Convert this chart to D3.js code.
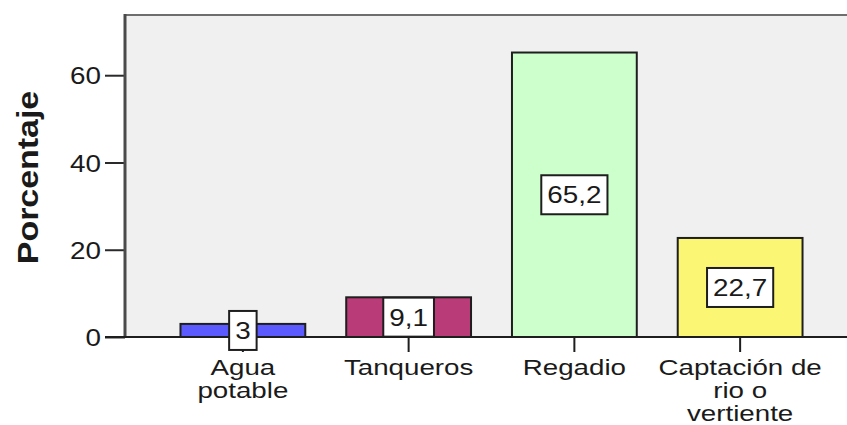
<!DOCTYPE html>
<html>
<head>
<meta charset="utf-8">
<script src="https://cdnjs.cloudflare.com/ajax/libs/d3/7.8.5/d3.min.js"></script>
<style>
  html, body { margin: 0; padding: 0; background: #ffffff; }
  svg { display: block; }
  text { font-family: "Liberation Sans", Arial, sans-serif; fill: #1a1a1a; }
</style>
</head>
<body>
<svg id="chart" width="847" height="425"></svg>
<script>
const categories = ["Agua potable", "Tanqueros", "Regadio", "Captación de rio o vertiente"];
const categoryLines = [["Agua", "potable"], ["Tanqueros"], ["Regadio"], ["Captación de", "rio o", "vertiente"]];
const values = [3, 9.1, 65.2, 22.7];
const barColors = ["#5a5aff", "#b93b78", "#ccffcc", "#fbf674"];
const yTicks = [0, 20, 40, 60];
const yTitle = "Porcentaje";

const W = 847, H = 425;
const plot = { left: 125, top: 15, right: 847, bottom: 337 };
const SX = 1.16; // horizontal glyph widening seen in the reference
const FS = 24;
const XFS = 21, XSX = 1.32, XLH = 23;

const svg = d3.select("#chart");
const locale = d3.formatLocale({ decimal: ",", thousands: ".", grouping: [3], currency: ["", ""] });
const fmt = v => locale.format(",.1~f")(v);

const y = d3.scaleLinear().domain([0, 73.8]).range([plot.bottom, plot.top]);
const x = d3.scaleBand().domain(categories).range([160, 823]).paddingInner(0.247).paddingOuter(0.1235);

// plot background
svg.append("rect")
  .attr("x", plot.left).attr("y", plot.top)
  .attr("width", plot.right - plot.left).attr("height", plot.bottom - plot.top)
  .attr("fill", "#f0f0f0");

// top frame line
svg.append("line")
  .attr("x1", plot.left).attr("x2", plot.right)
  .attr("y1", plot.top).attr("y2", plot.top)
  .attr("stroke", "#6e6e6e").attr("stroke-width", 2);

// bars
svg.append("g").selectAll("rect").data(values).join("rect")
  .attr("x", (d, i) => x(categories[i]))
  .attr("y", d => y(d))
  .attr("width", x.bandwidth())
  .attr("height", d => y(0) - y(d))
  .attr("fill", (d, i) => barColors[i])
  .attr("stroke", "#1e1e1e").attr("stroke-width", 2);

// y axis
const yAxis = d3.axisLeft(y).tickValues(yTicks).tickSize(20).tickPadding(4).tickFormat(d3.format("d"));
const gy = svg.append("g").attr("transform", `translate(${plot.left},0)`).call(yAxis);
gy.select(".domain").remove();
gy.selectAll(".tick line").attr("stroke", "#2a2a2a").attr("stroke-width", 2);
gy.selectAll(".tick text")
  .attr("font-size", FS)
  .attr("fill", "#1a1a1a")
  .attr("dy", "0.36em")
  .attr("transform", function () {
    const xx = +d3.select(this).attr("x");
    return `translate(${xx * (1 - SX)},0) scale(${SX},1)`;
  });

// left frame line
svg.append("line")
  .attr("x1", plot.left).attr("x2", plot.left)
  .attr("y1", plot.top - 1).attr("y2", plot.bottom)
  .attr("stroke", "#4a4a4a").attr("stroke-width", 3);

// x axis
const xAxis = d3.axisBottom(x).tickSize(15).tickFormat("");
const gx = svg.append("g").attr("transform", `translate(0,${plot.bottom})`).call(xAxis);
gx.select(".domain").remove();
gx.selectAll(".tick line").attr("stroke", "#1e1e1e").attr("stroke-width", 2);
svg.append("line")
  .attr("x1", 105).attr("x2", plot.right)
  .attr("y1", plot.bottom).attr("y2", plot.bottom)
  .attr("stroke", "#1e1e1e").attr("stroke-width", 2);

// x category labels
const lab = svg.append("g");
categories.forEach((c, i) => {
  const cx = x(c) + x.bandwidth() / 2;
  categoryLines[i].forEach((ln, j) => {
    lab.append("text")
      .attr("transform", `translate(${cx},${375 + j * XLH}) scale(${XSX},1.08)`)
      .attr("text-anchor", "middle")
      .attr("font-size", XFS)
      .text(ln);
  });
});

// y title
svg.append("text")
  .attr("transform", `translate(38,177.5) rotate(-90) scale(1.17,1)`)
  .attr("text-anchor", "middle")
  .attr("font-size", 29)
  .attr("font-weight", "bold")
  .text(yTitle);

// value labels
const vl = svg.append("g");
values.forEach((v, i) => {
  const cx = x(categories[i]) + x.bandwidth() / 2;
  const cy = y(v / 2);
  const g = vl.append("g");
  const t = g.append("text")
    .attr("transform", `translate(${cx},${cy + 8.5}) scale(${SX},1)`)
    .attr("text-anchor", "middle")
    .attr("font-size", FS)
    .text(fmt(v));
  const tw = t.node().getComputedTextLength() * SX;
  const bw = tw + 12, bh = 39;
  g.insert("rect", "text")
    .attr("x", cx - bw / 2).attr("y", cy - bh / 2)
    .attr("width", bw).attr("height", bh)
    .attr("fill", "#ffffff")
    .attr("stroke", "#1e1e1e").attr("stroke-width", 2);
});
</script>
</body>
</html>
